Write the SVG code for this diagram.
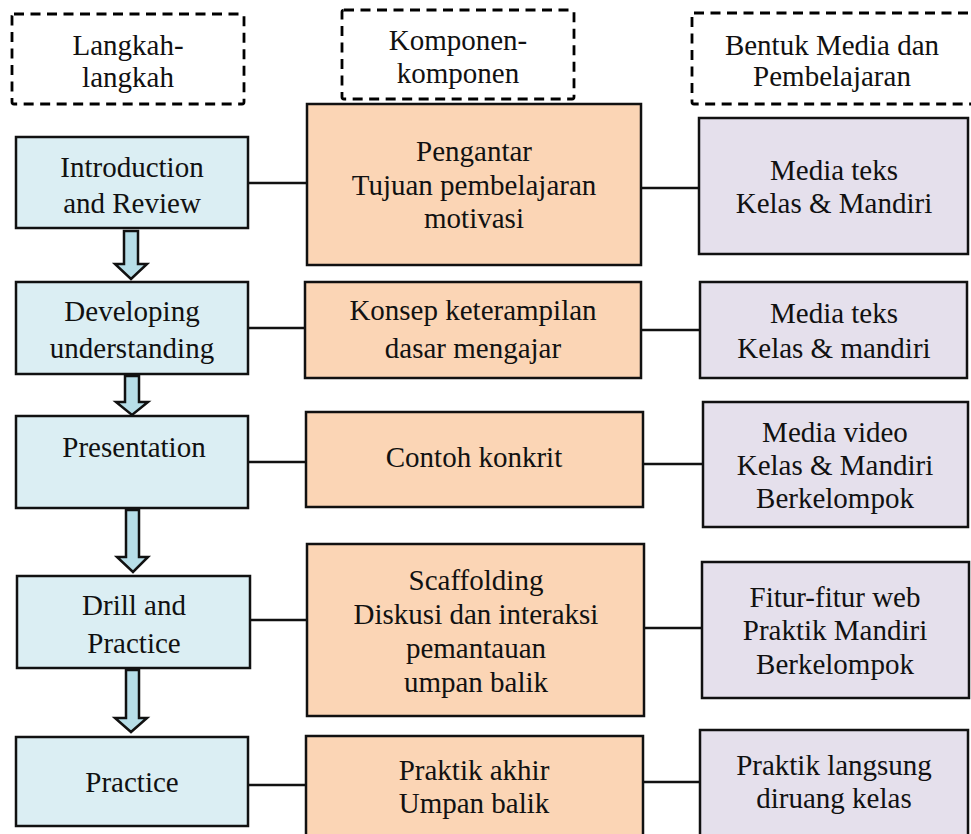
<svg xmlns="http://www.w3.org/2000/svg" width="971" height="834" viewBox="0 0 971 834">
<style>
text{font-family:"Liberation Serif","Times New Roman",serif;font-size:29px;fill:#111;text-anchor:middle}
.hdr{fill:#fff;stroke:#000;stroke-width:2.8;stroke-dasharray:10 6.5}
.step{fill:#DBEEF3;stroke:#111;stroke-width:2.5}
.comp{fill:#FBD5B5;stroke:#111;stroke-width:2.5}
.media{fill:#E5E0EC;stroke:#111;stroke-width:2.5}
.link{stroke:#111;stroke-width:2.5;fill:none}
.arr{fill:#B7DEE8;stroke:#111;stroke-width:2.5;stroke-linejoin:miter}
</style>
<rect width="971" height="834" fill="#fff"/>
<g id="hdr-langkah"><rect class="hdr" x="12" y="14" width="232" height="90" rx="2"/><text x="128" y="55">Langkah-</text><text x="128" y="87">langkah</text></g>
<g id="hdr-komponen"><rect class="hdr" x="342" y="10" width="232" height="89" rx="2"/><text x="458" y="50">Komponen-</text><text x="458" y="83">komponen</text></g>
<g id="hdr-media"><rect class="hdr" x="692" y="13" width="290" height="91" rx="2"/><text x="832" y="55">Bentuk Media dan</text><text x="832" y="86">Pembelajaran</text></g>
<g id="connectors">
<line class="link" x1="248" y1="183" x2="307" y2="183"/>
<line class="link" x1="248" y1="328" x2="305" y2="328"/>
<line class="link" x1="248" y1="462" x2="306" y2="462"/>
<line class="link" x1="250" y1="620" x2="307" y2="620"/>
<line class="link" x1="248" y1="785" x2="306" y2="785"/>
<line class="link" x1="641" y1="188" x2="699" y2="188"/>
<line class="link" x1="641" y1="330" x2="700" y2="330"/>
<line class="link" x1="643" y1="464" x2="703" y2="464"/>
<line class="link" x1="644" y1="628" x2="702" y2="628"/>
<line class="link" x1="643" y1="782" x2="700" y2="782"/>
<path class="arr" d="M124,231 H138 V264 H147 L131,279 L115,264 H124 Z"/>
<path class="arr" d="M125,376 H139 V402 H148 L132,415 L116,402 H125 Z"/>
<path class="arr" d="M126,510 H139 V557 H148 L133,572 L117,557 H126 Z"/>
<path class="arr" d="M126,670 H139 V718 H147 L131,732 L115,718 H126 Z"/>
</g>
<g id="step-intro"><rect class="step" x="16" y="137" width="232" height="91"/><text x="132" y="177">Introduction</text><text x="132" y="213">and Review</text></g>
<g id="step-developing"><rect class="step" x="16" y="282" width="232" height="92"/><text x="132" y="321">Developing</text><text x="132" y="358">understanding</text></g>
<g id="step-presentation"><rect class="step" x="16" y="416" width="232" height="92"/><text x="134" y="457">Presentation</text></g>
<g id="step-drill"><rect class="step" x="17" y="576" width="233" height="92"/><text x="134" y="615">Drill and</text><text x="134" y="653">Practice</text></g>
<g id="step-practice"><rect class="step" x="16" y="737" width="232" height="89"/><text x="132" y="792">Practice</text></g>
<g id="comp-1"><rect class="comp" x="307" y="104" width="334" height="161"/><text x="474" y="161">Pengantar</text><text x="474" y="195">Tujuan pembelajaran</text><text x="474" y="228">motivasi</text></g>
<g id="comp-2"><rect class="comp" x="305" y="282" width="336" height="96"/><text x="473" y="320">Konsep keterampilan</text><text x="473" y="358">dasar mengajar</text></g>
<g id="comp-3"><rect class="comp" x="306" y="412" width="337" height="95"/><text x="474" y="467">Contoh konkrit</text></g>
<g id="comp-4"><rect class="comp" x="307" y="544" width="337" height="172"/><text x="476" y="590">Scaffolding</text><text x="476" y="624">Diskusi dan interaksi</text><text x="476" y="658">pemantauan</text><text x="476" y="692">umpan balik</text></g>
<g id="comp-5"><rect class="comp" x="306" y="736" width="337" height="110"/><text x="474" y="780">Praktik akhir</text><text x="474" y="813">Umpan balik</text></g>
<g id="media-1"><rect class="media" x="699" y="118" width="269" height="136"/><text x="834" y="180">Media teks</text><text x="834" y="213">Kelas &amp; Mandiri</text></g>
<g id="media-2"><rect class="media" x="700" y="282" width="267" height="96"/><text x="834" y="323">Media teks</text><text x="834" y="358">Kelas &amp; mandiri</text></g>
<g id="media-3"><rect class="media" x="703" y="402" width="265" height="125"/><text x="835" y="442">Media video</text><text x="835" y="475">Kelas &amp; Mandiri</text><text x="835" y="508">Berkelompok</text></g>
<g id="media-4"><rect class="media" x="702" y="562" width="267" height="136"/><text x="835" y="607">Fitur-fitur web</text><text x="835" y="640">Praktik Mandiri</text><text x="835" y="674">Berkelompok</text></g>
<g id="media-5"><rect class="media" x="700" y="730" width="268" height="116"/><text x="834" y="775">Praktik langsung</text><text x="834" y="808">diruang kelas</text></g>
</svg>
